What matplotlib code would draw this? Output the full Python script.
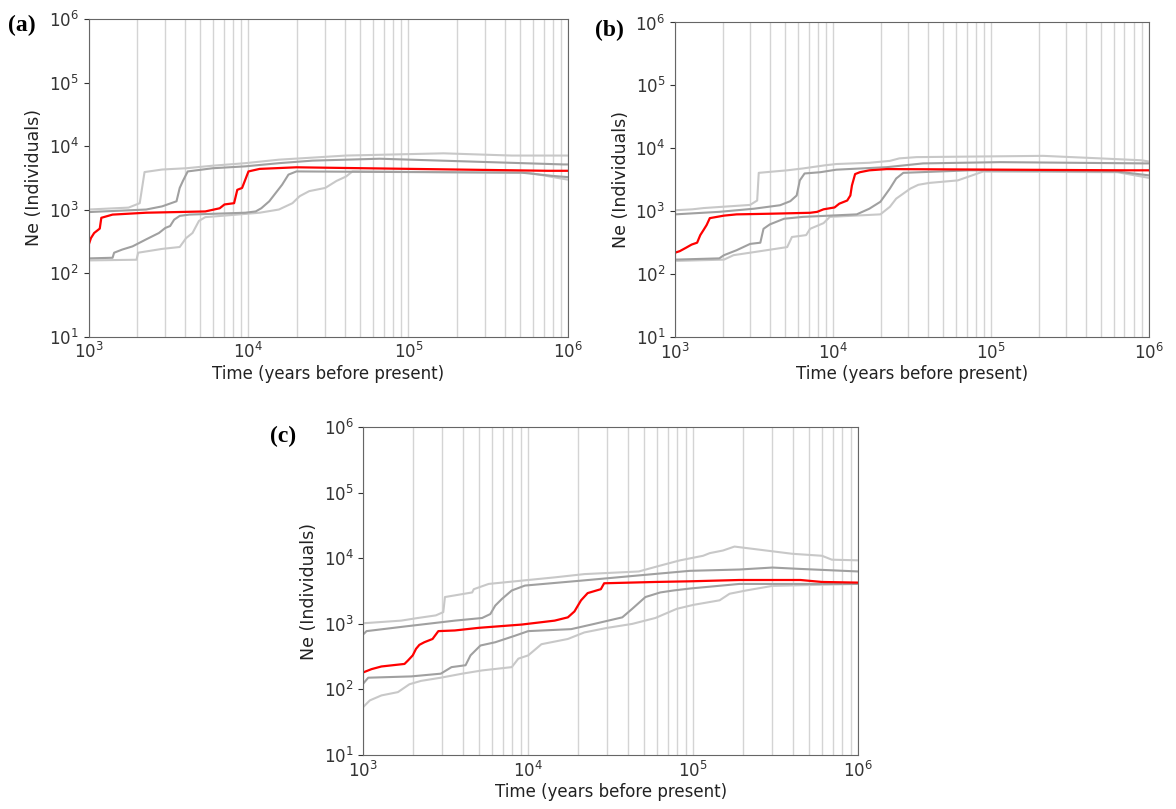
import matplotlib
matplotlib.use("Agg")
import matplotlib.pyplot as plt
from matplotlib.ticker import LogLocator, NullFormatter

# ---- panel (a) ----
a_med_t = [1000, 1035, 1084, 1175, 1202, 1413, 2291, 5370, 6607, 7079, 8128, 8511, 9120,
           9550, 10000, 11750, 19950, 741300, 1000000]
a_med_ne = [275, 355, 427, 501, 741, 832, 891, 933, 1047, 1202, 1259, 2042, 2188,
            2951, 3981, 4365, 4624, 4074, 4074]
a_hi_t = [1000, 1778, 2089, 2239, 2884, 4074, 5957, 9550, 15490, 40740, 166000, 441600, 1000000]
a_hi_ne = [1000, 1072, 1259, 3890, 4266, 4467, 4898, 5370, 6095, 7079, 7674, 7079, 7079]
a_q3_t = [1000, 2291, 2884, 3548, 3715, 3890, 4169, 5957, 9550, 15490, 25120, 66070,
          933300, 1000000]
a_q3_ne = [912, 1000, 1122, 1349, 2188, 2818, 3981, 4467, 4786, 5370, 5888, 6310, 5129, 5129]
a_q1_t = [1000, 1413, 1445, 1622, 1884, 2291, 2754, 3020, 3236, 3428, 3715, 4266, 9550,
          11090, 12020, 13490, 14790, 16220, 17780, 19950, 512900, 794300, 1000000]
a_q1_ne = [170, 174, 209, 234, 263, 339, 427, 513, 550, 692, 794, 832, 891,
           933, 1047, 1349, 1820, 2455, 3548, 3981, 3802, 3388, 3236]
a_lo_t = [1000, 1995, 2042, 2884, 3715, 4074, 4467, 4898, 5370, 7586, 11750, 15490, 18840,
          20890, 23990, 30200, 35480, 40740, 44670, 562300, 891300, 1000000]
a_lo_ne = [158, 162, 209, 240, 257, 355, 427, 661, 759, 813, 891, 1000, 1259,
           1622, 1950, 2188, 2818, 3311, 3981, 3802, 3090, 2951]

# ---- panel (b) ----
b_med_t = [1000, 1072, 1175, 1274, 1380, 1445, 1514, 1585, 1660, 2042, 2455, 3981, 7161,
           7943, 8710, 10230, 10960, 12300, 12880, 13180, 13800, 14790, 16980, 21880,
           724400, 1000000]
b_med_ne = [219, 232, 263, 295, 316, 417, 501, 603, 776, 851, 891, 912, 944,
            977, 1072, 1148, 1318, 1479, 1778, 2570, 3890, 4169, 4467, 4677,
            4467, 4467]
b_hi_t = [1000, 1288, 1514, 2985, 3311, 3388, 5129, 6457, 8913, 10470, 16980, 22910,
          26300, 33880, 213800, 489800, 891300, 1000000]
b_hi_ne = [1035, 1072, 1122, 1259, 1479, 4074, 4467, 4786, 5370, 5623, 5888, 6310,
           6918, 7244, 7586, 6918, 6457, 6166]
b_q3_t = [1000, 1905, 3162, 4624, 5370, 5888, 6166, 6607, 8318, 10470, 21880, 37150,
          114800, 933300, 1000000]
b_q3_ne = [891, 977, 1096, 1245, 1445, 1778, 3090, 3981, 4169, 4571, 5012, 5754,
           6026, 5754, 5754]
b_q1_t = [1000, 1905, 2042, 2455, 2985, 3467, 3631, 3981, 4898, 6457, 9550, 14130, 16980,
          19950, 22910, 25120, 27860, 74130, 631000, 1000000]
b_q1_ne = [170, 178, 200, 240, 302, 316, 525, 617, 759, 813, 851, 891, 1096,
           1413, 2291, 3311, 4074, 4467, 4266, 3715]
b_lo_t = [1000, 2042, 2344, 2985, 5129, 5495, 6761, 7161, 8710, 9550, 19950, 22910, 25120,
          30900, 34670, 40740, 61660, 89130, 631000, 1000000]
b_lo_ne = [162, 170, 200, 219, 269, 389, 417, 525, 646, 813, 891, 1175, 1585,
           2291, 2630, 2818, 3090, 4266, 4169, 3388]

# ---- panel (c) ----
c_med_t = [1000, 1122, 1288, 1778, 1862, 1995, 2089, 2188, 2344, 2630, 2851, 3589, 5012,
           9120, 14450, 17380, 19050, 20890, 22910, 27540, 28840, 58880, 95500, 190500,
           446700, 602600, 1000000]
c_med_ne = [182, 204, 224, 245, 275, 331, 417, 479, 525, 589, 776, 794, 871,
            977, 1122, 1259, 1549, 2291, 2951, 3388, 4169, 4365, 4467, 4677,
            4677, 4365, 4266]
c_hi_t = [1000, 1698, 2138, 2754, 3055, 3126, 4571, 4677, 5754, 9120, 14450, 21880,
          46770, 63100, 83180, 114800, 125900, 151400, 177800, 398100, 602600, 691800,
          1000000]
c_hi_ne = [1023, 1122, 1230, 1349, 1514, 2570, 3020, 3388, 4074, 4571, 5129, 5754,
           6310, 7762, 9333, 10960, 12020, 13180, 15140, 11750, 10960, 9550, 9333]
c_q3_t = [1000, 1047, 1778, 3589, 5248, 5888, 6310, 6918, 7943, 9550, 20890, 46770,
          95500, 190500, 302000, 436500, 1000000]
c_q3_ne = [692, 776, 912, 1122, 1230, 1413, 1905, 2399, 3236, 3846, 4571, 5495,
           6457, 6761, 7244, 6918, 6310]
c_q1_t = [1000, 1072, 1950, 2951, 3428, 4169, 4467, 5129, 6310, 8318, 10000, 18200,
          25120, 37150, 42660, 51290, 63100, 75860, 95500, 190500, 1000000]
c_q1_ne = [123, 151, 158, 174, 219, 234, 331, 468, 525, 661, 776, 832,
           1000, 1259, 1698, 2570, 3020, 3236, 3467, 4074, 4074]
c_lo_t = [1000, 1096, 1288, 1622, 1905, 2239, 2951, 3981, 5248, 7943, 8710, 10000,
          12020, 17380, 21880, 30200, 42660, 58880, 79430, 100000, 144500, 166000,
          208900, 302000, 1000000]
c_lo_ne = [54, 68, 81, 91, 120, 135, 151, 174, 195, 219, 295, 331,
           490, 589, 741, 871, 1000, 1230, 1698, 1950, 2291, 2884,
           3236, 3802, 4074]

panels = [
    ("(a)", [0.0753, 0.584, 0.408, 0.3925], (0.007, 0.969),
     [(a_lo_t, a_lo_ne), (a_hi_t, a_hi_ne)], [(a_q1_t, a_q1_ne), (a_q3_t, a_q3_ne)],
     (a_med_t, a_med_ne)),
    ("(b)", [0.574, 0.5834, 0.403, 0.3888], (0.506, 0.962),
     [(b_lo_t, b_lo_ne), (b_hi_t, b_hi_ne)], [(b_q1_t, b_q1_ne), (b_q3_t, b_q3_ne)],
     (b_med_t, b_med_ne)),
    ("(c)", [0.3089, 0.0668, 0.4209, 0.405], (0.230, 0.460),
     [(c_lo_t, c_lo_ne), (c_hi_t, c_hi_ne)], [(c_q1_t, c_q1_ne), (c_q3_t, c_q3_ne)],
     (c_med_t, c_med_ne)),
]

LIGHT = "#c8c8c8"
DARK = "#a0a0a0"

fig = plt.figure(figsize=(11.76, 8.09), dpi=100)

for letter, rect, lpos, light, dark, med in panels:
    ax = fig.add_axes(rect)
    ax.set_xscale("log")
    ax.set_yscale("log")
    ax.set_xlim(1e3, 1e6)
    ax.set_ylim(1e1, 1e6)
    ax.xaxis.set_minor_locator(LogLocator(base=10, subs=range(2, 10)))
    ax.xaxis.set_minor_formatter(NullFormatter())
    ax.yaxis.set_minor_formatter(NullFormatter())
    ax.grid(True, which="both", axis="x", color="#d4d4d4", lw=1.0)
    ax.set_axisbelow(True)
    for t, ne in light:
        ax.plot(t, ne, color=LIGHT, lw=1.5)
    for t, ne in dark:
        ax.plot(t, ne, color=DARK, lw=1.5)
    ax.plot(med[0], med[1], color="red", lw=1.6)
    ax.tick_params(which="minor", length=0)
    ax.tick_params(which="major", labelsize=12, colors="#333333", length=3.5)
    ax.tick_params(axis="x", which="major", length=0, pad=4)
    for s in ax.spines.values():
        s.set_color("#666666")
    ax.set_xlabel("Time (years before present)", fontsize=12, color="#222222", labelpad=2)
    ax.set_ylabel("Ne (Individuals)", fontsize=12.5, color="#222222", labelpad=4)
    fig.text(lpos[0], lpos[1], letter, fontsize=17, fontweight="bold",
             family="Liberation Serif", ha="left", va="center")

fig.savefig("out.png", dpi=100)
